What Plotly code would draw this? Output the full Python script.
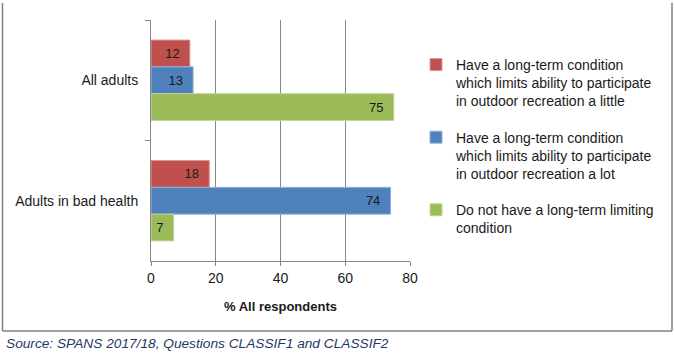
import plotly.graph_objects as go

categories = ["All adults", "Adults in bad health"]
series_names = [
    "Have a long-term condition<br>which limits ability to participate<br>in outdoor recreation a little",
    "Have a long-term condition<br>which limits ability to participate<br>in outdoor recreation a lot",
    "Do not have a long-term limiting<br>condition",
]
little = [12, 18]
a_lot = [13, 74]
none_ = [75, 7]
colors = ["#C0504D", "#4F81BD", "#9BBB59"]
edge_colors = ["#D99694", "#95B3D7", "#C3D69B"]
x_ticks = [0, 20, 40, 60, 80]
source_text = "Source: SPANS 2017/18, Questions CLASSIF1 and CLASSIF2"

W, H = 674, 357
L, R, T, B = 151, 410, 20, 261

def px(x):
    return (x - L) / (R - L)

def py(y):
    return (B - y) / (B - T)

fig = go.Figure()
for i, vals in enumerate([little, a_lot, none_]):
    fig.add_trace(go.Bar(
        y=categories, x=vals, orientation="h", name=series_names[i],
        marker=dict(color=colors[i], line=dict(color=edge_colors[i], width=1)),
        text=[f"{v}\u00a0\u00a0" for v in vals], textposition="inside", insidetextanchor="end",
        textfont=dict(color="#1a1a1a", size=13, family="Liberation Sans"),
        legendgroup=f"g{i}", cliponaxis=False, hoverinfo="skip",
    ))

fig.update_layout(
    width=W, height=H,
    margin=dict(l=L, r=W - R, t=T, b=H - B, autoexpand=False),
    paper_bgcolor="white", plot_bgcolor="white",
    barmode="group", bargap=0.333, bargroupgap=0,
    font=dict(family="Liberation Sans", size=13, color="#1a1a1a"),
    showlegend=True,
    legend=dict(x=px(416), y=py(49), xanchor="left", yanchor="top",
                traceorder="grouped", tracegroupgap=15, valign="top",
                font=dict(size=14, color="#1a1a1a"), itemwidth=30,
                bgcolor="rgba(0,0,0,0)"),
    xaxis=dict(range=[0, 80], tickvals=x_ticks, showgrid=True, gridcolor="#868686",
               gridwidth=1, showline=True, linecolor="#868686", ticks="outside",
               ticklen=4, tickcolor="#868686", zeroline=False,
               tickfont=dict(size=14),
               title=dict(text="<b>% All respondents</b>", standoff=17,
                          font=dict(size=13))),
    yaxis=dict(categoryorder="array", categoryarray=categories, autorange="reversed",
               showline=True, linecolor="#868686", ticks="outside", ticklen=5,
               tickcolor="#868686", tickson="boundaries", ticklabelstandoff=9,
               tickfont=dict(size=14)),
    shapes=[
        dict(type="line", xref="paper", yref="paper", x0=px(2.5), x1=px(2.5), y0=py(3), y1=py(331),
             line=dict(color="#808080", width=1.5)),
        dict(type="line", xref="paper", yref="paper", x0=px(672), x1=px(672), y0=py(3), y1=py(331),
             line=dict(color="#808080", width=1.5)),
        dict(type="line", xref="paper", yref="paper", x0=px(2.5), x1=px(672), y0=py(331), y1=py(331),
             line=dict(color="#808080", width=1.5)),
    ],
    annotations=[
        dict(text="<i>" + source_text + "</i>", xref="paper", yref="paper",
             x=px(4), y=py(343), xanchor="left", yanchor="middle", showarrow=False,
             font=dict(family="Liberation Sans", size=13.7, color="#1F3864")),
    ],
)

fig.write_html("out.html", config={"displayModeBar": False},
               post_script="document.body.style.margin='0px';")
